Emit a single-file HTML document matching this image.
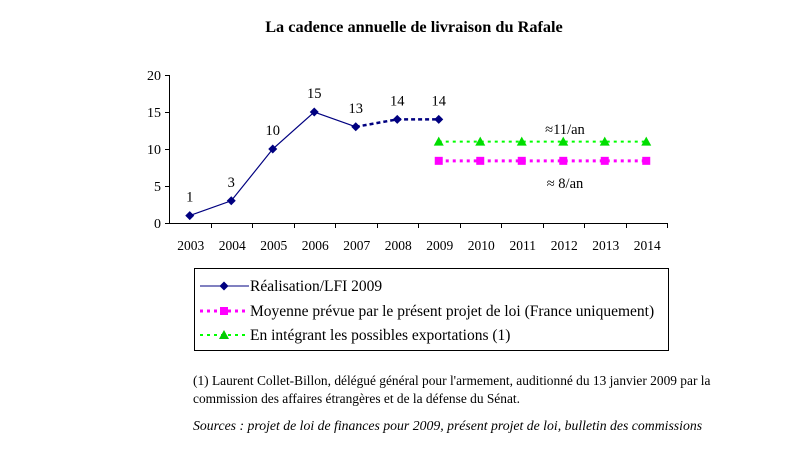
<!DOCTYPE html>
<html><head><meta charset="utf-8"><style>
body{margin:0;background:#fff;width:811px;height:457px;overflow:hidden;font-family:"Liberation Serif",serif;}
svg{position:absolute;left:0;top:0}
.note{position:absolute;left:193px;color:#000;white-space:nowrap;}
</style></head><body>
<svg width="811" height="457">
<text x="414" y="32" text-anchor="middle" font-weight="bold" font-size="16.3" font-family="Liberation Serif">La cadence annuelle de livraison du Rafale</text>
<g id="plot"></g>
<rect x="194.5" y="268.5" width="474" height="82" fill="none" stroke="#000"/>
<g>
<line x1="200" y1="286" x2="249" y2="286" stroke="#000080"/>
<path d="M224 281.5L228.5 286L224 290.5L219.5 286Z" fill="#000080"/>
<text x="250" y="291" font-size="15.5">Réalisation/LFI 2009</text></g>
<g>
<line x1="200" y1="311" x2="249" y2="311" stroke="#ff00ff" stroke-width="3" stroke-dasharray="3,4"/>
<rect x="220" y="307" width="8" height="8" fill="#ff00ff"/>
<text x="250" y="316" font-size="15.5">Moyenne prévue par le présent projet de loi (France uniquement)</text></g>
<g>
<line x1="200" y1="335" x2="249" y2="335" stroke="#00ff00" stroke-width="2" stroke-dasharray="3,4"/>
<path d="M224 330L229 339L219 339Z" fill="#00cc00"/>
<text x="250" y="340" font-size="15.5">En intégrant les possibles exportations (1)</text></g>
</svg>
<div class="note" style="top:372px;font-size:13.4px;line-height:18px">(1) Laurent Collet-Billon, délégué général pour l'armement, auditionné du 13 janvier 2009 par la<br>commission des affaires étrangères et de la défense du Sénat.</div>
<div class="note" style="top:418px;font-style:italic;font-size:13.75px">Sources : projet de loi de finances pour 2009, présent projet de loi, bulletin des commissions</div>
<script>
const years=["2003","2004","2005","2006","2007","2008","2009","2010","2011","2012","2013","2014"];
const realisation=[1,3,10,15,13,14,14];
const moyenne=[null,null,null,null,null,null,8.4,8.4,8.4,8.4,8.4,8.4];
const exportations=[null,null,null,null,null,null,11,11,11,11,11,11];
const yTicks=[0,5,10,15,20];
const NS="http://www.w3.org/2000/svg";
const g=document.getElementById('plot');
const X0=169,CW=41.5,Y0=223,PU=7.4;
const xs=i=>X0+CW*(i+0.5), ys=v=>Y0-v*PU;
function el(t,a,txt){const e=document.createElementNS(NS,t);for(const k in a)e.setAttribute(k,a[k]);if(txt!==undefined)e.textContent=txt;g.appendChild(e);return e;}
let ax=el('line',{x1:X0+.5,y1:ys(20),x2:X0+.5,y2:Y0+.5,stroke:'#000'});


yTicks.forEach(v=>{el('line',{x1:X0-4,y1:ys(v)+.5,x2:X0,y2:ys(v)+.5,stroke:'#000'});
let t=el('text',{x:X0-8,y:ys(v)+5,'text-anchor':'end','font-size':14},String(v));

});
let xa=el('line',{x1:X0,y1:Y0+.5,x2:X0+CW*years.length,y2:Y0+.5,stroke:'#000'});


years.forEach((y,i)=>{const bx=Math.round(X0+CW*(i+1))+.5;el('line',{x1:bx,y1:Y0,x2:bx,y2:Y0+5,stroke:'#000'});
let t=el('text',{x:xs(i)+1,y:Y0+27,'text-anchor':'middle','font-size':13.5},y);

});
let p1=realisation.slice(0,5).map((v,i)=>xs(i)+','+ys(v)).join(' ');
let l1=el('polyline',{points:p1,fill:'none',stroke:'#000080','stroke-width':1.2});


let p2=realisation.slice(4).map((v,i)=>xs(i+4)+','+ys(v)).join(' ');
let l2=el('polyline',{points:p2,fill:'none',stroke:'#000080','stroke-width':2.5,'stroke-dasharray':'4,3'});


realisation.forEach((v,i)=>{const x=xs(i),y=ys(v);
let m=el('path',{d:`M${x} ${y-4.5}L${x+4.5} ${y}L${x} ${y+4.5}L${x-4.5} ${y}Z`,fill:'#000080'});


let t=el('text',{x:x,y:y-14,'text-anchor':'middle','font-size':14.5},String(v));

});
function series(arr,color,w,name,marker){const pts=[];arr.forEach((v,i)=>{if(v!==null)pts.push([xs(i),ys(v)]);});
let l=el('polyline',{points:pts.map(p=>p.join(',')).join(' '),fill:'none',stroke:color,'stroke-width':w,'stroke-dasharray':'3,4'});


pts.forEach(([x,y])=>{let m=marker==='sq'?el('rect',{x:x-4,y:y-4,width:8,height:8,fill:color}):el('path',{d:`M${x} ${y-5}L${x+5} ${y+4}L${x-5} ${y+4}Z`,fill:'#00dd00'});

});}
series(moyenne,'#ff00ff',3,'moyenne','sq');
series(exportations,'#00ff00',2,'exportations','tri');
let a1=el('text',{x:565,y:134,'text-anchor':'middle','font-size':14.5},'≈11/an');


let a2=el('text',{x:565,y:188,'text-anchor':'middle','font-size':14.5},'≈ 8/an');


</script>
</body></html>
